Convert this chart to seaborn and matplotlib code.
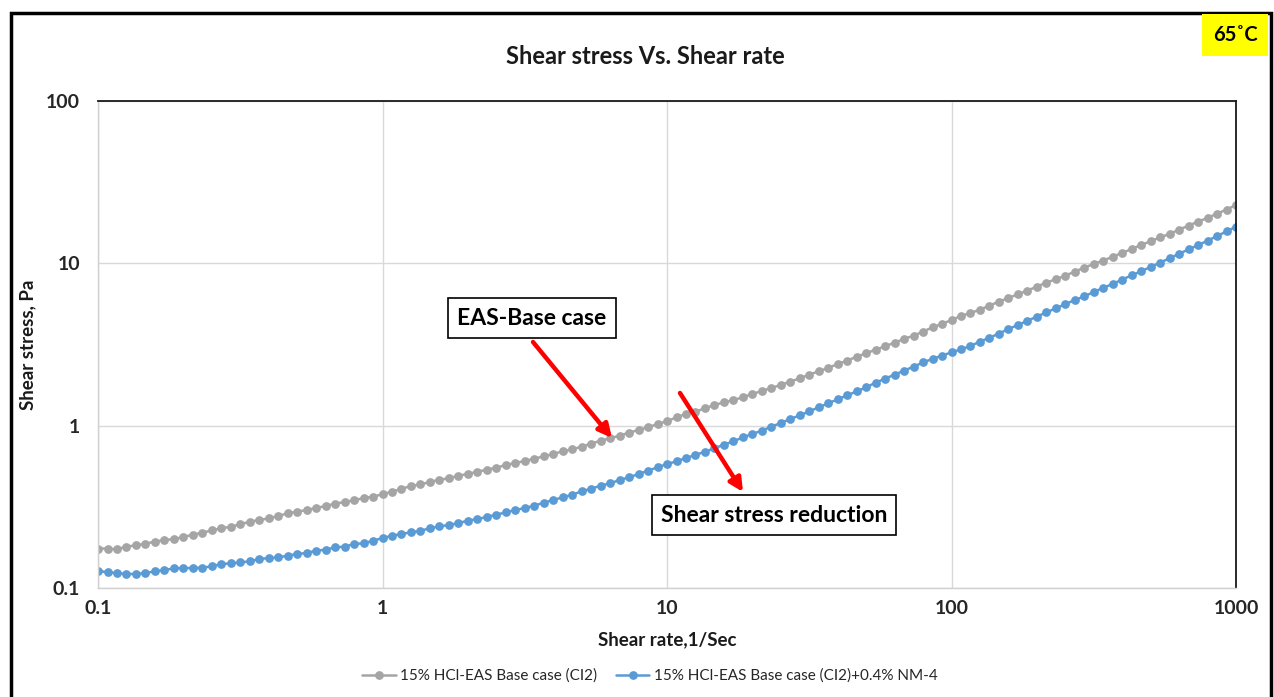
import numpy as np
import pandas as pd
import matplotlib
matplotlib.use("Agg")
import matplotlib.pyplot as plt
import seaborn as sns
from matplotlib.patches import Rectangle
from matplotlib.lines import Line2D

# ---------------- data ----------------
decades = [0.1, 1, 10, 100]
mantissa = [1.000, 1.080, 1.166, 1.259, 1.359, 1.468, 1.585, 1.711, 1.848, 1.995,
            2.154, 2.326, 2.512, 2.712, 2.929, 3.162, 3.415, 3.687, 3.981, 4.299,
            4.642, 5.012, 5.412, 5.843, 6.310, 6.813, 7.356, 7.943, 8.577, 9.261]
shear_rate = [d * m for d in decades for m in mantissa] + [1000.0]

stress_base = [
    0.175, 0.175, 0.173, 0.180, 0.183, 0.1875, 0.193, 0.1975, 0.200, 0.206,
    0.213, 0.219, 0.2265, 0.233, 0.2385, 0.2466, 0.2561, 0.2622, 0.2685, 0.2776,
    0.2884, 0.2953, 0.3022, 0.311, 0.320, 0.3307, 0.3386, 0.3467, 0.3583, 0.365,
    0.378,
    0.392, 0.408, 0.4249, 0.4350, 0.4496, 0.4648, 0.4737, 0.4919, 0.5037, 0.5206,
    0.5356, 0.5510, 0.5722, 0.5888, 0.6057, 0.6260, 0.6471, 0.6689, 0.6948, 0.7148,
    0.7424, 0.7746, 0.8083, 0.8353, 0.8679, 0.9055, 0.9404, 0.9766, 1.024, 1.065,
    1.126, 1.180, 1.220, 1.279, 1.341, 1.392, 1.439, 1.495, 1.567, 1.635,
    1.707, 1.781, 1.867, 1.957, 2.062, 2.162, 2.266, 2.399, 2.515, 2.662,
    2.791, 2.940, 3.083, 3.246, 3.420, 3.585, 3.795, 4.036, 4.231, 4.479,
    4.740, 4.946, 5.185, 5.488, 5.808, 6.118, 6.445, 6.789, 7.185, 7.605,
    7.973, 8.399, 8.889, 9.408, 9.911, 10.39, 11.00, 11.59, 12.26, 12.98,
    13.67, 14.47, 15.17, 16.13, 17.07, 18.07, 19.04, 20.24, 21.42, 22.89,
]

stress_nm4 = [
    0.1278, 0.1248, 0.1237, 0.122, 0.122, 0.1237, 0.1266, 0.129, 0.1321, 0.1327,
    0.1327, 0.1334, 0.1359, 0.1405, 0.1418, 0.1438, 0.1459, 0.1508, 0.153, 0.1544,
    0.1581, 0.162, 0.1643, 0.1698, 0.1722, 0.178, 0.1797, 0.1866, 0.1884, 0.1956,
    0.203,
    0.210, 0.2151, 0.2203, 0.2254, 0.2330, 0.2397, 0.2443, 0.2513, 0.2598, 0.266,
    0.2737, 0.2829, 0.2924, 0.3022, 0.311, 0.3214, 0.3354, 0.3483, 0.3617, 0.3756,
    0.3940, 0.4091, 0.4269, 0.4413, 0.4626, 0.4805, 0.5037, 0.528, 0.5536, 0.5803,
    0.6029, 0.6321, 0.6596, 0.6915, 0.7251, 0.7636, 0.8007, 0.8474, 0.8885, 0.9315,
    0.9858, 1.039, 1.099, 1.158, 1.225, 1.297, 1.373, 1.453, 1.538, 1.627,
    1.723, 1.840, 1.948, 2.062, 2.182, 2.310, 2.450, 2.58, 2.70, 2.83,
    2.95, 3.10, 3.29, 3.48, 3.69, 3.94, 4.17, 4.42, 4.70, 4.98,
    5.29, 5.60, 5.95, 6.25, 6.67, 7.06, 7.47, 7.94, 8.44, 8.94,
    9.50, 10.1, 10.75, 11.45, 12.18, 12.95, 13.78, 14.72, 15.72, 16.82,
]

series_names = ["15% HCl-EAS Base case (CI2)", "15% HCl-EAS Base case (CI2)+0.4% NM-4"]
x_ticks = [0.1, 1, 10, 100, 1000]
x_tick_labels = ["0.1", "1", "10", "100", "1000"]
y_ticks = [0.1, 1, 10, 100]
y_tick_labels = ["0.1", "1", "10", "100"]

# ---------------- style ----------------
sns.set_theme(style="white")
plt.rcParams["font.family"] = ["Lato", "DejaVu Sans"]

W, H = 1274, 697
fig = plt.figure(figsize=(W / 100, H / 100), dpi=100)
ax = fig.add_axes([98 / W, 1 - 588 / H, (1236 - 98) / W, (588 - 101) / H])

df = pd.DataFrame({
    "rate": shear_rate * 2,
    "stress": stress_base + stress_nm4,
    "series": [series_names[0]] * len(shear_rate) + [series_names[1]] * len(shear_rate),
})
palette = {series_names[0]: "#A5A5A5", series_names[1]: "#5B9BD5"}

sns.lineplot(data=df, x="rate", y="stress", hue="series", palette=palette,
             marker="o", markersize=6.3, markeredgewidth=0, linewidth=1.8,
             ax=ax, legend=False, sort=False)

ax.set_xscale("log")
ax.set_yscale("log")
ax.set_xlim(0.1, 1000)
ax.set_ylim(0.1, 100)
ax.set_xticks(x_ticks)
ax.set_xticklabels(x_tick_labels)
ax.set_yticks(y_ticks)
ax.set_yticklabels(y_tick_labels)
ax.minorticks_off()
ax.tick_params(axis="both", length=0, labelsize=14, colors="#262626")
ax.tick_params(axis="x", pad=9)
ax.tick_params(axis="y", pad=13)
for lbl in ax.get_xticklabels() + ax.get_yticklabels():
    lbl.set_fontweight("bold")
ax.grid(True, which="major", color="#D9D9D9", linewidth=1.0)
ax.set_axisbelow(True)
for s in ["left", "bottom"]:
    ax.spines[s].set_color("#D0D0D0")
    ax.spines[s].set_linewidth(1.0)
for s in ["top", "right"]:
    ax.spines[s].set_color("#1a1a1a")
    ax.spines[s].set_linewidth(1.3)

ax.set_xlabel("Shear rate,1/Sec", fontsize=13.5, fontweight="bold", color="#1a1a1a", labelpad=10)
ax.set_ylabel("Shear stress, Pa", fontsize=13.5, fontweight="bold", color="#1a1a1a", labelpad=7)

# title
fig.text(645 / W, 1 - 57 / H, "Shear stress Vs. Shear rate", ha="center", va="center",
         fontsize=17, fontweight="bold", color="#1a1a1a")

# temperature tag
fig.text(1235 / W, 1 - 35 / H, "65˚C", ha="center", va="center", fontsize=14.5,
         fontweight="bold", color="black", family=["Lato", "DejaVu Sans"],
         bbox=dict(boxstyle="square,pad=0.55", fc="#FFFF00", ec="none"))

# outer border
fig.patches.append(Rectangle((11 / W, -0.05), (1271 - 11) / W, 1 - 13 / H + 0.05,
                             transform=fig.transFigure, fill=False, ec="black", lw=2.5))

# annotation boxes and arrows
box = dict(boxstyle="square,pad=0.4", fc="white", ec="black", lw=1.2)
fig.text(532 / W, 1 - 318 / H, "EAS-Base case", ha="center", va="center",
         fontsize=16.5, fontweight="bold", color="black", bbox=box)
fig.text(774 / W, 1 - 515 / H, "Shear stress reduction", ha="center", va="center",
         fontsize=16.5, fontweight="bold", color="black", bbox=box)
arrow = dict(arrowstyle="-|>", color="#FF0000", lw=3.2, mutation_scale=20, shrinkA=0, shrinkB=0)
ax.annotate("", xy=(612, H - 438), xytext=(533, H - 342), xycoords="figure pixels",
            textcoords="figure pixels", arrowprops=arrow)
ax.annotate("", xy=(743, H - 492), xytext=(680, H - 393), xycoords="figure pixels",
            textcoords="figure pixels", arrowprops=arrow)

# legend
handles = [Line2D([0], [0], color=palette[n], marker="o", markersize=6.3,
                  markeredgewidth=0, lw=1.8) for n in series_names]
fig.legend(handles, series_names, loc="center", bbox_to_anchor=(650 / W, 1 - 676 / H),
           ncol=2, frameon=False, fontsize=11, handlelength=2.2, columnspacing=1.2,
           handletextpad=0.3, labelcolor="#262626")

fig.savefig("out.png", dpi=100)
